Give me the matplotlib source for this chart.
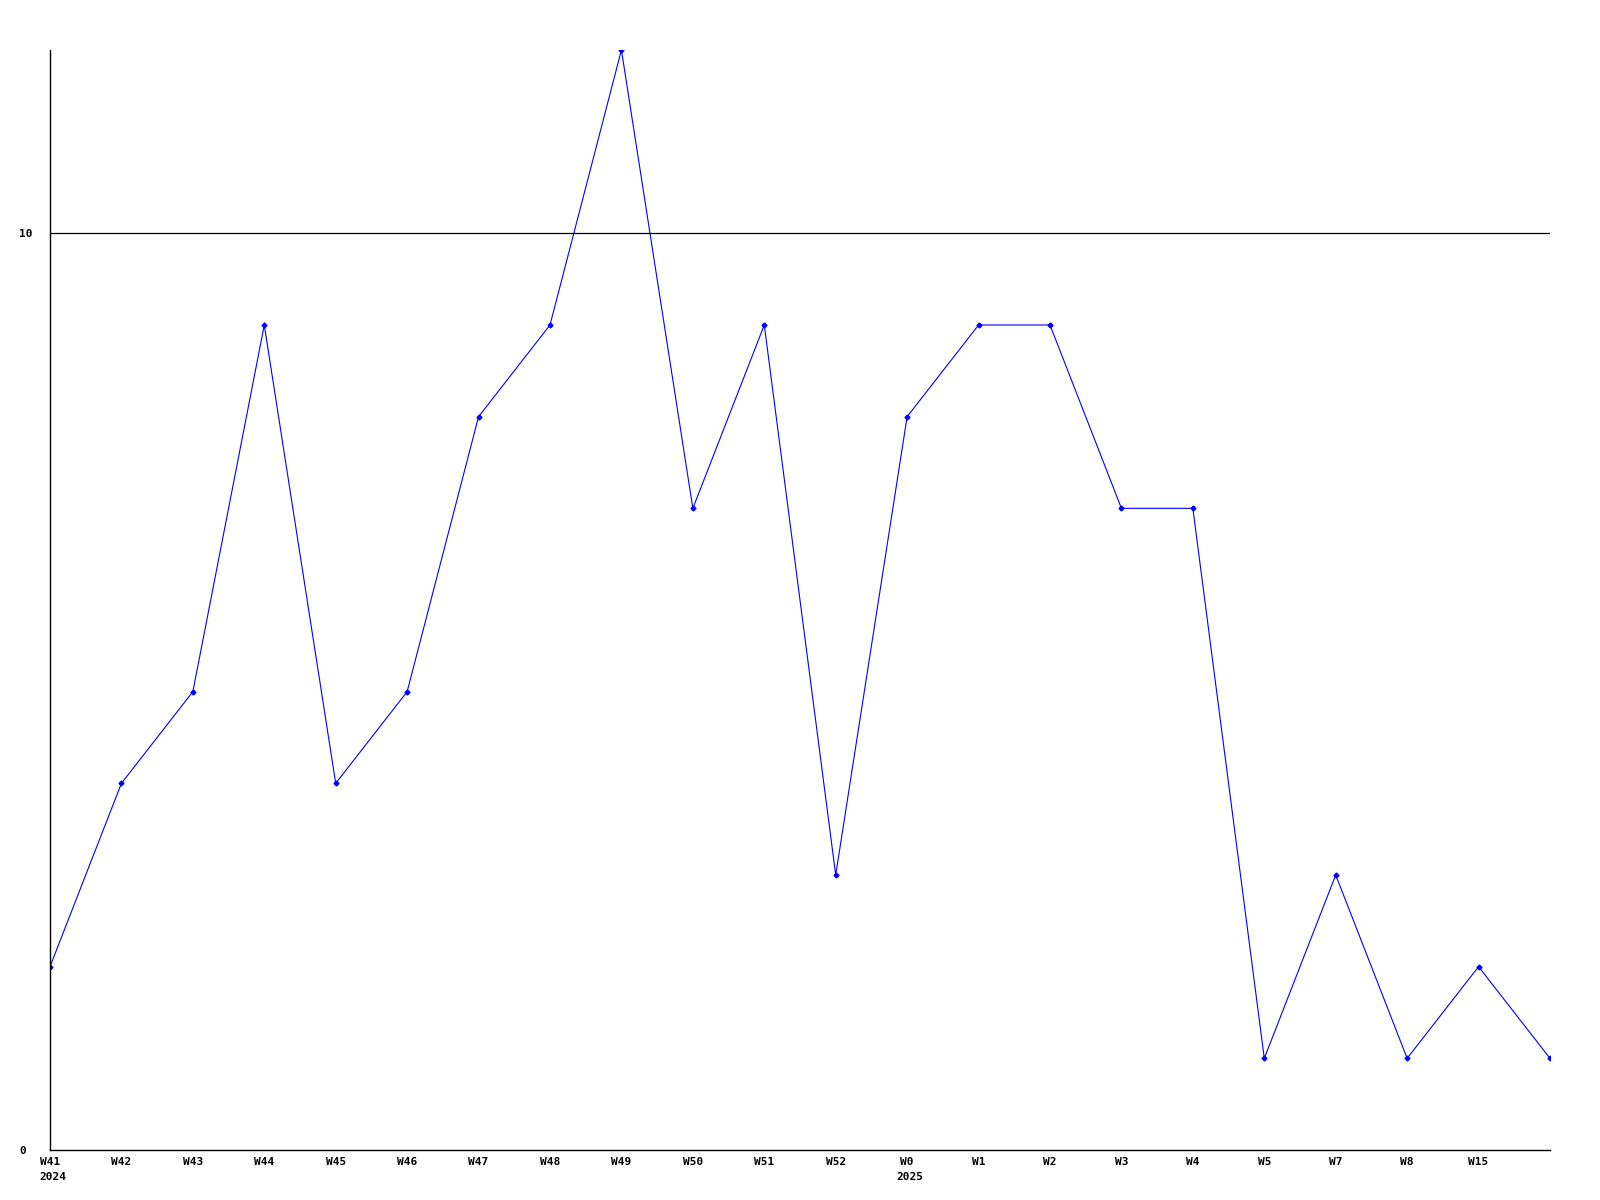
import matplotlib
matplotlib.use('Agg')
import matplotlib.pyplot as plt
import matplotlib.transforms as mtransforms

# weekly counts
week_labels = ['W41', 'W42', 'W43', 'W44', 'W45', 'W46', 'W47', 'W48', 'W49', 'W50',
               'W51', 'W52', 'W0', 'W1', 'W2', 'W3', 'W4', 'W5', 'W7', 'W8', 'W15', '']
counts = [2, 4, 5, 9, 4, 5, 8, 9, 12, 7, 9, 3, 8, 9, 9, 7, 7, 1, 3, 1, 2, 1]
year_marks = {0: '2024', 12: '2025'}

plt.rcParams['font.family'] = 'DejaVu Sans Mono'
plt.rcParams['font.weight'] = 'bold'
plt.rcParams['font.size'] = 8

fig = plt.figure(figsize=(16, 12), dpi=100)
ax = fig.add_axes([50/1600, 50/1200, 1500/1600, 1100/1200])

x = list(range(len(counts)))
ax.plot(x, counts, color='#0000ff', linewidth=0.8, marker='D', markersize=2.5)
ax.axhline(10, color='black', linewidth=0.9)

ax.set_xlim(0, len(counts) - 1)
ax.set_ylim(0, 12)
for pos in ['top', 'right']:
    ax.spines[pos].set_visible(False)
for pos in ['left', 'bottom']:
    ax.spines[pos].set_linewidth(1)

ax.set_yticks([0, 10])
ax.set_yticklabels(['0', '10'], ha='left')
ax.tick_params(axis='y', length=0, pad=22)
ax.set_xticks(x)
ax.set_xticklabels(week_labels)
ax.tick_params(axis='x', length=0, pad=5)

trans = mtransforms.blended_transform_factory(ax.transData, ax.transAxes)
for i, yr in year_marks.items():
    ax.annotate(yr, xy=(i, 0), xycoords=trans, xytext=(-7.5, -16),
                textcoords='offset points', ha='left', va='top')

fig.savefig('out.png', dpi=100)
